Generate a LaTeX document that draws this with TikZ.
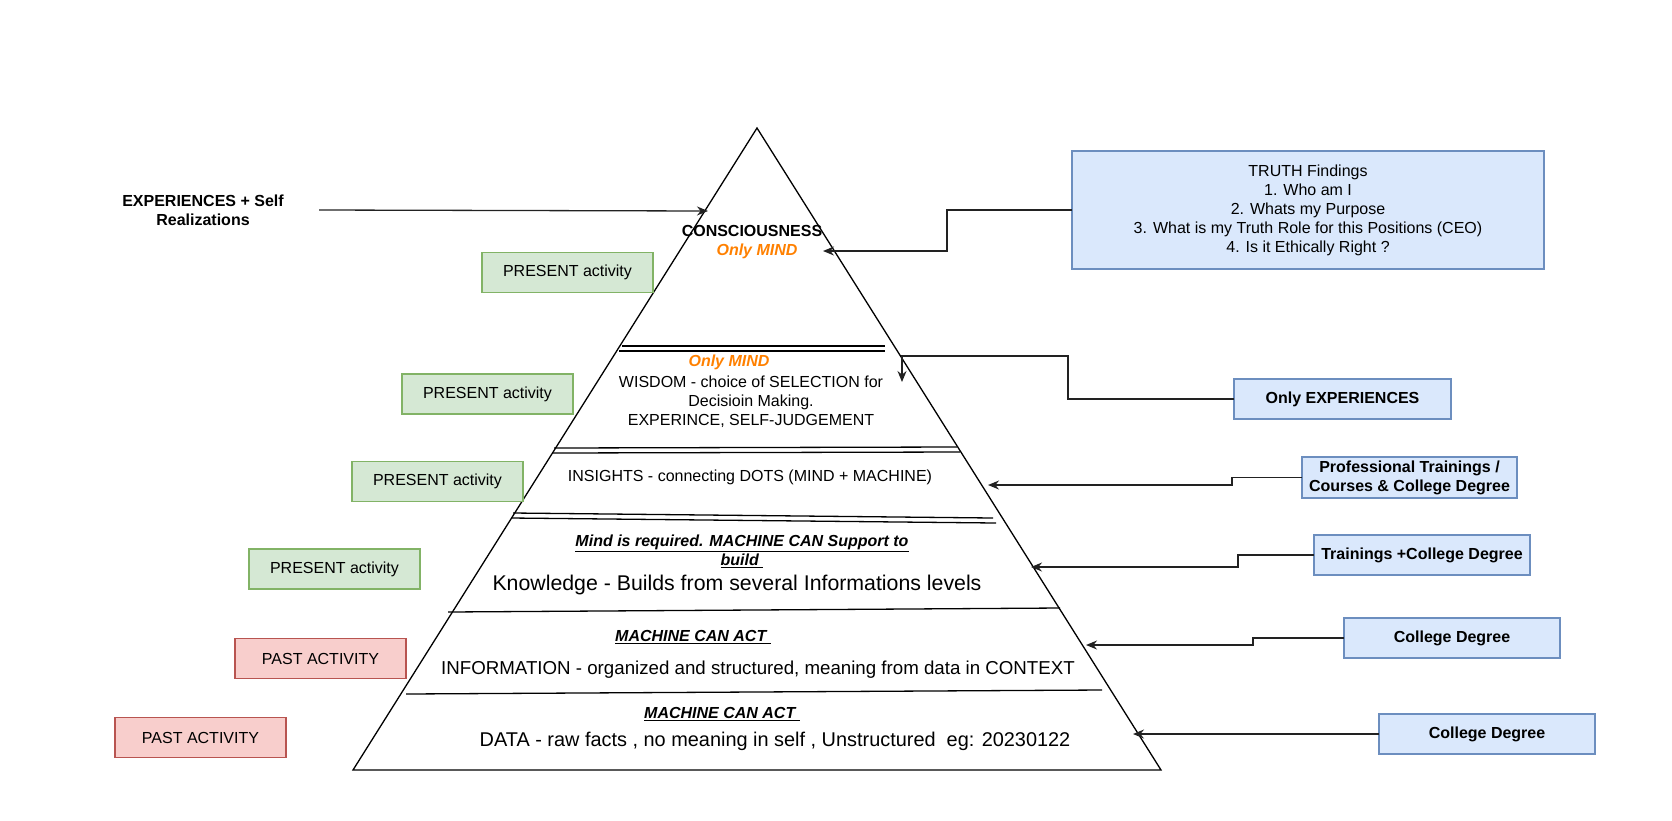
\documentclass[tikz,border=0pt]{standalone}
\usepackage{fontspec}
\setmainfont{Liberation Sans}
\usetikzlibrary{arrows.meta}
\definecolor{gfill}{HTML}{D5E8D4}
\definecolor{gline}{HTML}{82B366}
\definecolor{rfill}{HTML}{F8CECC}
\definecolor{rline}{HTML}{B85450}
\definecolor{bfill}{HTML}{DAE8FC}
\definecolor{bline}{HTML}{6C8EBF}
\definecolor{orng}{HTML}{FF8000}
\definecolor{conn}{HTML}{222222}
\newcommand\fsA{\fontsize{16}{19}\selectfont}
\newcommand\fsB{\fontsize{18.7}{22}\selectfont}
\newcommand\fsD{\fontsize{19.9}{23}\selectfont}
\newcommand\fsC{\fontsize{21.3}{25}\selectfont}
\begin{document}
\begin{tikzpicture}[x=1pt,y=-1pt,
  txt/.style={inner sep=0pt, outer sep=0pt, font=\fsA, align=center},
  boxbase/.style={inner sep=0pt, outer sep=0pt, font=\fsA, align=center, line width=1.3pt, minimum height=40pt},
  gbox/.style={boxbase, draw=gline, fill=gfill, minimum width=171pt},
  rbox/.style={boxbase, draw=rline, fill=rfill, minimum width=171pt},
  bbox/.style={boxbase, draw=bline, fill=bfill, font=\fsA\bfseries},
  pyr/.style={line width=1.3pt, black},
  arr/.style={-{Stealth[length=11pt,width=9pt]}, line width=1.3pt, conn},
  mind/.style={txt, text=orng, font=\fsA\bfseries\itshape},
  mca/.style={txt, font=\fsA\bfseries\itshape}
]
\useasboundingbox (0,0) rectangle (1672,820);

% pyramid
\coordinate (apex) at (757,128);
\coordinate (bl) at (353,770);
\coordinate (br) at (1161,770);
\draw[pyr] (apex) -- (bl) -- (br) -- cycle;

% level lines
\coordinate (l1a) at (622,346); \coordinate (r1a) at (885,346);
\coordinate (l1b) at (619,351); \coordinate (r1b) at (885,351);
\coordinate (l2a) at (554,448); \coordinate (r2a) at (957,447);
\coordinate (l2b) at (553,453); \coordinate (r2b) at (960,452);
\coordinate (l3a) at (513,513); \coordinate (r3a) at (993,518);
\coordinate (l3b) at (511,518); \coordinate (r3b) at (996,523);
\coordinate (l4) at (448,612); \coordinate (r4) at (1060,608);
\coordinate (l5) at (406,694); \coordinate (r5) at (1102,690);
\draw[pyr] (l1a) -- (r1a);
\draw[pyr] (l1b) -- (r1b);
\draw[pyr] (l2a) -- (r2a);
\draw[pyr] (l2b) -- (r2b);
\draw[pyr] (l3a) -- (r3a);
\draw[pyr] (l3b) -- (r3b);
\draw[pyr] (l4) -- (r4);
\draw[pyr] (l5) -- (r5);

% texts in pyramid
\node[txt, font=\fsA\bfseries] (cons) at (752,231) {CONSCIOUSNESS};
\node[mind] (om1) at (757,251) {Only MIND};
\node[mind] (om2) at (729,362) {Only MIND};
\node[txt] (wis) at (751,402) {WISDOM - choice of SELECTION for\\Decisioin Making.\\EXPERINCE, SELF-JUDGEMENT};
\node[txt] (ins) at (750,477) {INSIGHTS - connecting DOTS (MIND + MACHINE)};
\node[mca] (mreq) at (742,551) {\underline{Mind is required. MACHINE CAN Support to}\\\underline{build\ }};
\node[txt, font=\fsC] (know) at (737,585) {Knowledge - Builds from several Informations levels};
\node[mca] (mca1) at (693,637) {\underline{MACHINE CAN ACT\ }};
\node[txt, font=\fsB] (info) at (758,670) {INFORMATION - organized and structured, meaning from data in CONTEXT};
\node[mca] (mca2) at (722,714) {\underline{MACHINE CAN ACT\ }};
\node[txt, font=\fsD] (data) at (775,741) {DATA - raw facts , no meaning in self , Unstructured\ \ eg: 20230122};

% left boxes
\node[gbox] (p1) at (567.5,272.5) {PRESENT activity};
\node[gbox] (p2) at (487.5,394) {PRESENT activity};
\node[gbox] (p3) at (437.5,481.5) {PRESENT activity};
\node[gbox] (p4) at (334.5,569) {PRESENT activity};
\node[rbox] (pa1) at (320.5,658.5) {PAST ACTIVITY};
\node[rbox] (pa2) at (200.5,737.5) {PAST ACTIVITY};

% experiences
\node[txt, font=\fsA\bfseries, minimum width=232pt] (exp) at (203,210) {EXPERIENCES + Self\\Realizations};

% right boxes
\node[bbox, font=\fsA, minimum width=472pt, minimum height=118pt] (truth) at (1308,210) {TRUTH Findings\\1. Who am I\\2. Whats my Purpose\\3. What is my Truth Role for this Positions (CEO)\\4. Is it Ethically Right ?};
\node[bbox, minimum width=217pt] (oexp) at (1342.5,399) {Only EXPERIENCES};
\node[bbox, minimum width=215pt, minimum height=41pt] (prof) at (1409.5,477.5) {Professional Trainings /\\Courses \& College Degree};
\node[bbox, minimum width=216pt] (train) at (1422,555) {Trainings +College Degree};
\node[bbox, minimum width=216pt] (col1) at (1452,638) {College Degree};
\node[bbox, minimum width=216pt] (col2) at (1487,734) {College Degree};

% arrow end points on pyramid
\coordinate (c1) at (708,211);
\coordinate (c2) at (823,251);
\coordinate (c3) at (902,382);
\coordinate (c4) at (988,485);
\coordinate (c5) at (1031,567);
\coordinate (c6) at (1086,645);
\coordinate (c7) at (1133,734);

\draw[arr] (exp.east) -- (c1);
\draw[arr] (truth.west) -| (947,251) -- (c2);
\draw[arr] (oexp.west) -| (1068,356) -| (c3);
\draw[arr] (prof.west) -| (1232,485) -- (c4);
\draw[arr] (train.west) -| (1238,567) -- (c5);
\draw[arr] (col1.west) -| (1253,645) -- (c6);
\draw[arr] (col2.west) -- (c7);
\end{tikzpicture}
\end{document}
